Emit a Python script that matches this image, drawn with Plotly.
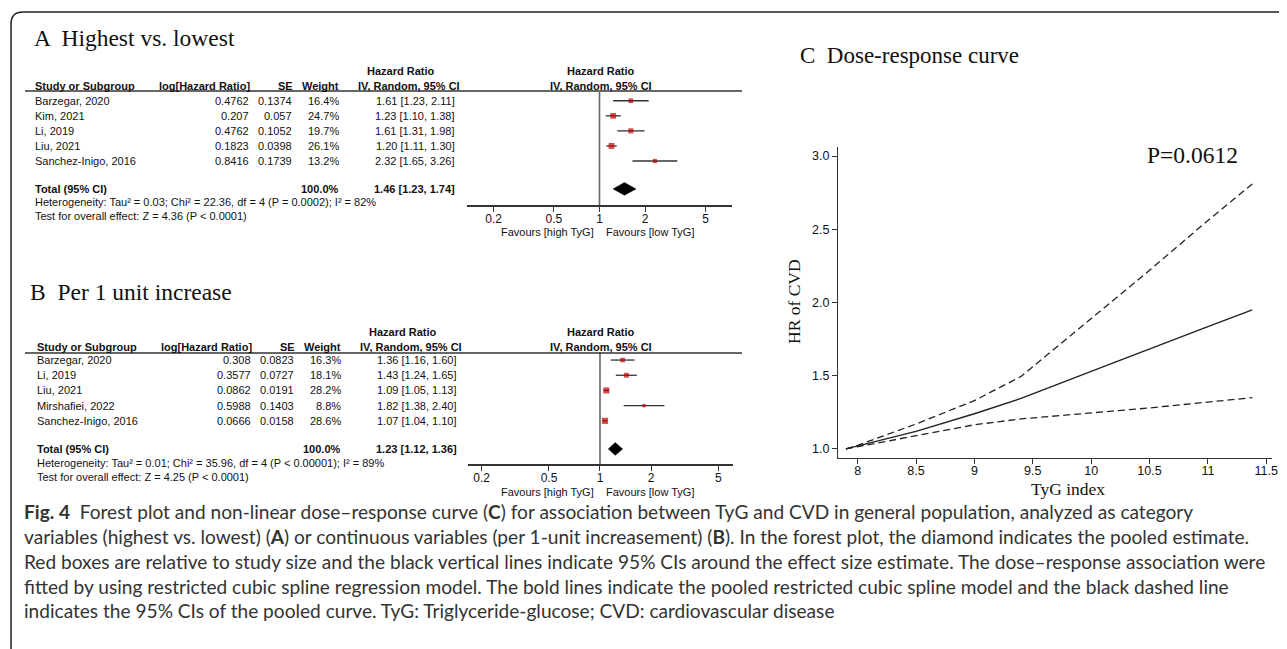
import plotly.graph_objects as go

W, H = 1287, 649
OFF = 8  # default page margin of the html body
def px(x): return (x - OFF) / W
def py(y): return 1 - (y - OFF) / H

ARIAL = "Liberation Sans, Arial, sans-serif"
TIMES = "Liberation Serif, Times New Roman, serif"
CAPF = "Lato, sans-serif"

# ---------------- data: panel A ----------------
studies_A = ["Barzegar, 2020", "Kim, 2021", "Li, 2019", "Liu, 2021", "Sanchez-Inigo, 2016"]
loghr_A = ["0.4762", "0.207", "0.4762", "0.1823", "0.8416"]
se_A = ["0.1374", "0.057", "0.1052", "0.0398", "0.1739"]
weight_A = [16.4, 24.7, 19.7, 26.1, 13.2]
hr_A = [1.61, 1.23, 1.61, 1.20, 2.32]
lo_A = [1.23, 1.10, 1.31, 1.11, 1.65]
hi_A = [2.11, 1.38, 1.98, 1.30, 3.26]
total_A = [1.46, 1.23, 1.74]
het_A = "Heterogeneity: Tau² = 0.03; Chi² = 22.36, df = 4 (P = 0.0002); I² = 82%"
test_A = "Test for overall effect: Z = 4.36 (P < 0.0001)"

# ---------------- data: panel B ----------------
studies_B = ["Barzegar, 2020", "Li, 2019", "Liu, 2021", "Mirshafiei, 2022", "Sanchez-Inigo, 2016"]
loghr_B = ["0.308", "0.3577", "0.0862", "0.5988", "0.0666"]
se_B = ["0.0823", "0.0727", "0.0191", "0.1403", "0.0158"]
weight_B = [16.3, 18.1, 28.2, 8.8, 28.6]
hr_B = [1.36, 1.43, 1.09, 1.82, 1.07]
lo_B = [1.16, 1.24, 1.05, 1.38, 1.04]
hi_B = [1.60, 1.65, 1.13, 2.40, 1.10]
total_B = [1.23, 1.12, 1.36]
het_B = "Heterogeneity: Tau² = 0.01; Chi² = 35.96, df = 4 (P < 0.00001); I² = 89%"
test_B = "Test for overall effect: Z = 4.25 (P < 0.0001)"

forest_ticks = [0.2, 0.5, 1, 2, 5]
forest_ticktext = ["0.2", "0.5", "1", "2", "5"]

# ---------------- data: panel C ----------------
tyg = [7.9, 8.0, 8.5, 9.0, 9.4, 10.0, 10.5, 11.0, 11.38]
hr_curve = [1.0, 1.02, 1.12, 1.24, 1.345, 1.53, 1.68, 1.835, 1.95]
hr_upper = [1.0, 1.025, 1.17, 1.33, 1.495, 1.89, 2.22, 2.56, 2.81]
hr_lower = [1.0, 1.015, 1.09, 1.165, 1.205, 1.245, 1.28, 1.32, 1.35]
c_xticks = [8, 8.5, 9, 9.5, 10, 10.5, 11, 11.5]
c_yticks = [1.0, 1.5, 2.0, 2.5, 3.0]
p_text = "P=0.0612"

caption_lines = [
    "<b>Fig. 4</b>  Forest plot and non-linear dose–response curve (<b>C</b>) for association between TyG and CVD in general population, analyzed as category",
    "variables (highest vs. lowest) (<b>A</b>) or continuous variables (per 1-unit increasement) (<b>B</b>). In the forest plot, the diamond indicates the pooled estimate.",
    "Red boxes are relative to study size and the black vertical lines indicate 95% CIs around the effect size estimate. The dose–response association were",
    "fitted by using restricted cubic spline regression model. The bold lines indicate the pooled restricted cubic spline model and the black dashed line",
    "indicates the 95% CIs of the pooled curve. TyG: Triglyceride-glucose; CVD: cardiovascular disease",
]

fig = go.Figure()

def ann(text, x, y, xanchor="left", yref="paper", size=11, family=ARIAL, color="#111", angle=0):
    fig.add_annotation(text=text, x=px(x), y=(py(y) if yref == "paper" else y),
                       xref="paper", yref=yref, xanchor=xanchor, yanchor="middle",
                       showarrow=False, textangle=angle,
                       font=dict(family=family, size=size, color=color))

TOTAL_ROW = 5.85

panels = [
    dict(name="A", title="A  Highest vs. lowest", studies=studies_A, loghr=loghr_A, se=se_A,
         weight=weight_A, hr=hr_A, lo=lo_A, hi=hi_A, total=total_A, het=het_A, test=test_A,
         xa="x", ya="y", title_xy=(32, 38), title_size=23.5, hr_head_y=71, col_head_y=86,
         line_y=91, het_y=202, test_y=216, fav_y=232, dx=0),
    dict(name="B", title="B  Per 1 unit increase", studies=studies_B, loghr=loghr_B, se=se_B,
         weight=weight_B, hr=hr_B, lo=lo_B, hi=hi_B, total=total_B, het=het_B, test=test_B,
         xa="x2", ya="y2", title_xy=(28, 292), title_size=23.5, hr_head_y=332, col_head_y=347,
         line_y=353, het_y=463, test_y=477, fav_y=492, dx=2),
]

for p in panels:
    rows = list(range(len(p["studies"])))
    xs, ys = [], []
    for l, h, r in zip(p["lo"], p["hi"], rows):
        xs += [l, h, None]
        ys += [r, r, None]
    fig.add_trace(go.Scatter(x=xs, y=ys, mode="lines", xaxis=p["xa"], yaxis=p["ya"],
                             line=dict(color="#333", width=1.3), showlegend=False, hoverinfo="skip"))
    fig.add_trace(go.Scatter(x=p["hr"], y=rows, mode="markers", xaxis=p["xa"], yaxis=p["ya"],
                             marker=dict(symbol="square", color="#c00000",
                                         size=[1.15 * w ** 0.5 for w in p["weight"]], line=dict(width=0)),
                             showlegend=False, hoverinfo="skip"))
    est, tlo, thi = p["total"]
    fig.add_trace(go.Scatter(x=[tlo, est, thi, est, tlo],
                             y=[TOTAL_ROW, TOTAL_ROW - 0.42, TOTAL_ROW, TOTAL_ROW + 0.42, TOTAL_ROW],
                             mode="lines", fill="toself", fillcolor="black", xaxis=p["xa"], yaxis=p["ya"],
                             line=dict(color="black", width=0.5), showlegend=False, hoverinfo="skip"))
    fig.add_shape(type="line", xref=p["xa"], yref=p["ya"] + " domain", x0=1, x1=1, y0=0, y1=1,
                  line=dict(color="#666", width=1.6))
    fig.add_shape(type="line", xref="paper", yref="paper", x0=px(25), x1=px(742),
                  y0=py(p["line_y"]), y1=py(p["line_y"]), line=dict(color="#333", width=1.3))
    dx = p["dx"]
    ann(p["title"], p["title_xy"][0], p["title_xy"][1], size=p["title_size"], family=TIMES, color="#111")
    ann("<b>Hazard Ratio</b>", 401 + dx, p["hr_head_y"], xanchor="center")
    ann("<b>Hazard Ratio</b>", 601, p["hr_head_y"], xanchor="center")
    ann("<b>Study or Subgroup</b>", 33 + dx, p["col_head_y"])
    ann("<b>log[Hazard Ratio]</b>", 252 + dx, p["col_head_y"], xanchor="right")
    ann("<b>SE</b>", 295 + dx, p["col_head_y"], xanchor="right")
    ann("<b>Weight</b>", 341 + dx, p["col_head_y"], xanchor="right")
    ann("<b>IV, Random, 95% CI</b>", 409 + dx, p["col_head_y"], xanchor="center")
    ann("<b>IV, Random, 95% CI</b>", 601, p["col_head_y"], xanchor="center")
    for i, r in enumerate(rows):
        ann(p["studies"][i], 33 + dx, r, yref=p["ya"])
        ann(p["loghr"][i], 251 + dx, r, xanchor="right", yref=p["ya"])
        ann(p["se"][i], 294 + dx, r, xanchor="right", yref=p["ya"])
        ann(f"{p['weight'][i]:.1f}%", 341 + dx, r, xanchor="right", yref=p["ya"])
        ann(f"{p['hr'][i]:.2f} [{p['lo'][i]:.2f}, {p['hi'][i]:.2f}]", 457 + dx, r,
            xanchor="right", yref=p["ya"])
    ann("<b>Total (95% CI)</b>", 33 + dx, TOTAL_ROW, yref=p["ya"])
    ann("<b>100.0%</b>", 341 + dx, TOTAL_ROW, xanchor="right", yref=p["ya"])
    ann(f"<b>{est:.2f} [{tlo:.2f}, {thi:.2f}]</b>", 457 + dx, TOTAL_ROW, xanchor="right", yref=p["ya"])
    ann(p["het"], 33 + dx, p["het_y"])
    ann(p["test"], 33 + dx, p["test_y"])
    ann("Favours [high TyG]", 596, p["fav_y"], xanchor="right")
    ann("Favours [low TyG]", 604, p["fav_y"], xanchor="left")

# ---------------- panel C ----------------
fig.add_trace(go.Scatter(x=tyg, y=hr_upper, mode="lines", xaxis="x3", yaxis="y3",
                         line=dict(color="#222", width=1.3, dash="7px,4px"), showlegend=False))
fig.add_trace(go.Scatter(x=tyg, y=hr_lower, mode="lines", xaxis="x3", yaxis="y3",
                         line=dict(color="#222", width=1.3, dash="7px,4px"), showlegend=False))
fig.add_trace(go.Scatter(x=tyg, y=hr_curve, mode="lines", xaxis="x3", yaxis="y3",
                         line=dict(color="#222", width=1.4), showlegend=False))

ann("C  Dose-response curve", 798, 56, size=23, family=TIMES)
ann(p_text, 1192, 155, xanchor="center", size=23.5, family=TIMES)
ann("HR of CVD", 794, 302, xanchor="center", size=17.5, family=TIMES, angle=-90)
ann("TyG index", 1068, 489, xanchor="center", size=17.5, family=TIMES)

cap_y = [511, 536, 561, 586, 610]
for line, y in zip(caption_lines, cap_y):
    ann(line, 22, y, size=19.1, family=CAPF, color="#333")

fig.add_shape(type="path", xref="paper", yref="paper",
              path=f"M {px(11)},{py(660)} L {px(11)},{py(24)} Q {px(11)},{py(12)} {px(23)},{py(12)} L {px(1300)},{py(12)}",
              line=dict(color="#222", width=1.5))

forest_axis = dict(type="log", showline=True, linecolor="#333", linewidth=1.5, ticks="outside",
                   ticklen=5, tickwidth=1.3, tickcolor="#333", tickvals=forest_ticks,
                   ticktext=forest_ticktext, showgrid=False, zeroline=False, ticklabelstandoff=-3,
                   tickfont=dict(family=ARIAL, size=12, color="#111"), fixedrange=True)
hidden_y = dict(visible=False, showgrid=False, zeroline=False, fixedrange=True)

fig.update_layout(
    width=W, height=H, margin=dict(l=0, r=0, t=0, b=0),
    paper_bgcolor="white", plot_bgcolor="white", template="none",
    xaxis=dict(forest_axis, domain=[px(467), px(732)], range=[-0.874, 0.874], anchor="y"),
    yaxis=dict(hidden_y, domain=[py(205), py(92)], range=[6.92, -0.58], anchor="x"),
    xaxis2=dict(forest_axis, domain=[px(468), px(733)], range=[-0.779, 0.785], anchor="y2"),
    yaxis2=dict(hidden_y, domain=[py(464), py(352)], range=[6.84, -0.53], anchor="x2"),
    xaxis3=dict(domain=[px(838), px(1272)], range=[7.832, 11.549], anchor="y3",
                showline=True, linecolor="#333", linewidth=1.2, ticks="outside", ticklen=5,
                tickcolor="#333", tickvals=c_xticks, ticktext=[str(v) for v in c_xticks],
                ticklabelstandoff=-4,
                showgrid=False, zeroline=False, tickfont=dict(family=ARIAL, size=12.5, color="#111")),
    yaxis3=dict(domain=[py(458), py(147)], range=[0.938, 3.062], anchor="x3",
                showline=True, linecolor="#333", linewidth=1.2, ticks="outside", ticklen=5,
                tickcolor="#333", tickvals=c_yticks, ticktext=[f"{v:.1f}" for v in c_yticks],
                showgrid=False, zeroline=False, tickfont=dict(family=ARIAL, size=12.5, color="#111")),
    showlegend=False,
)

fig.write_html("out.html")
